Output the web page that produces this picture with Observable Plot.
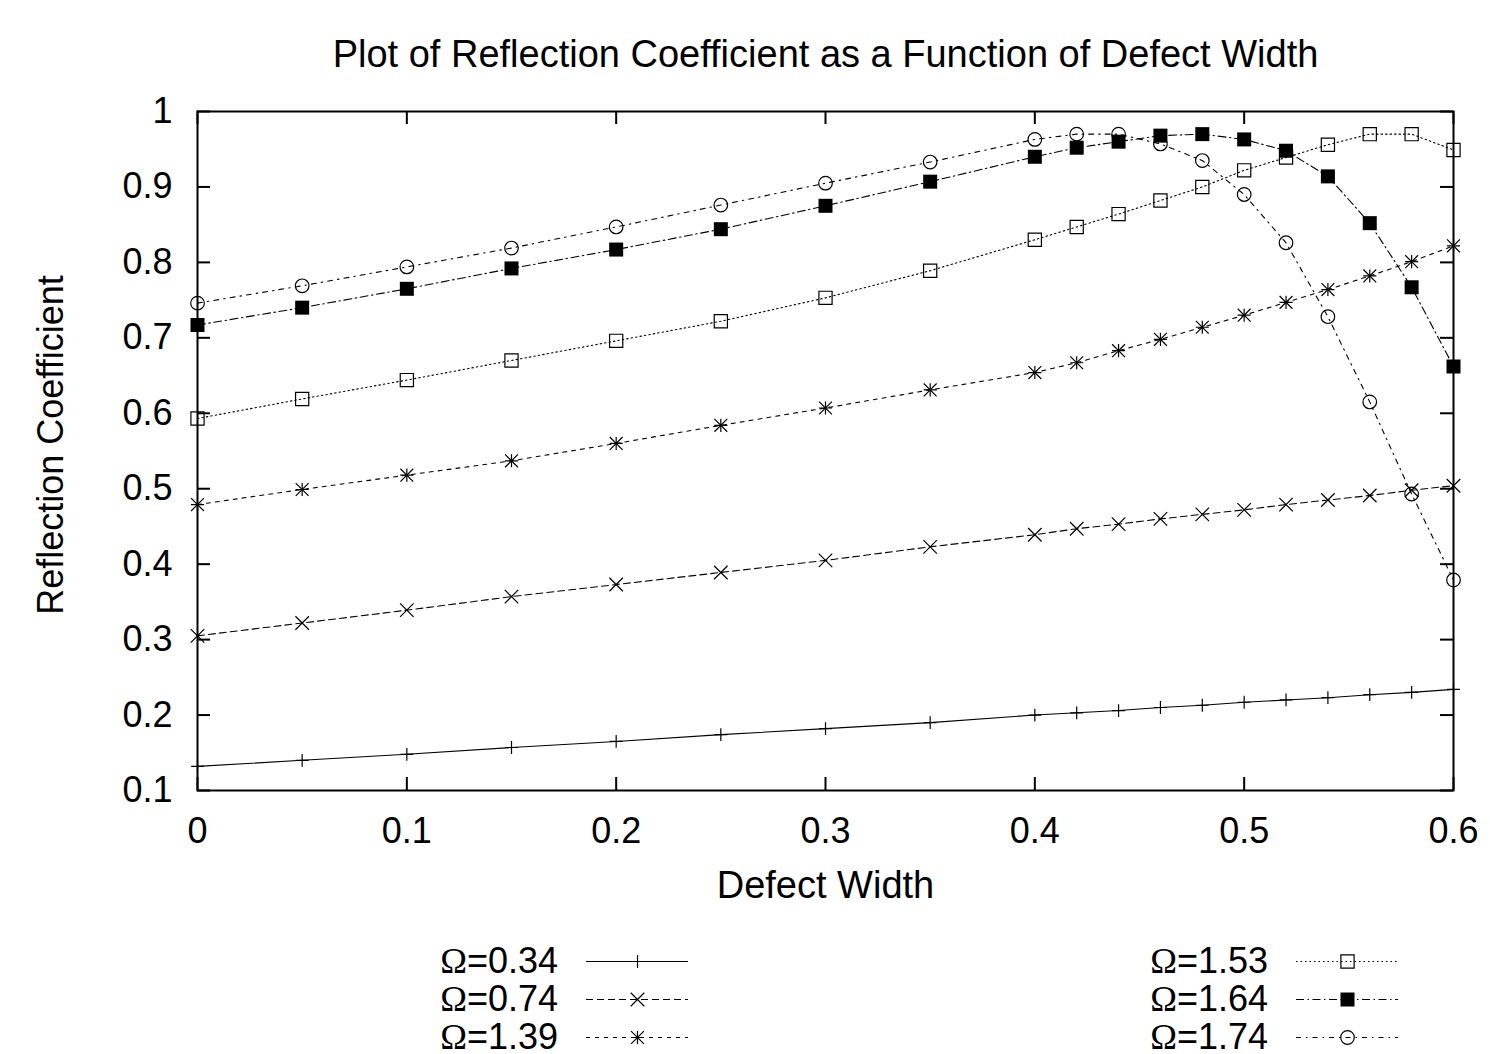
<!DOCTYPE html>
<html>
<head>
<meta charset="utf-8">
<script src="https://cdn.jsdelivr.net/npm/d3@7"></script>
<script src="https://cdn.jsdelivr.net/npm/@observablehq/plot@0.6"></script>
<style>
html, body { margin: 0; padding: 0; background: #fff; }
#wrap { position: relative; width: 1490px; height: 1054px; overflow: hidden; font-family: "Liberation Sans", Arial, sans-serif; color: #000; background: #fff; }
#chart { position: absolute; left: 0; top: 0; }
.lab { position: absolute; font-size: 36px; line-height: 38px; height: 38px; text-align: right; white-space: nowrap; width: 300px; }
.om { font-family: "Liberation Serif", "Times New Roman", serif; }
.samp { position: absolute; }
</style>
</head>
<body>
<div id="wrap"><div id="chart"></div></div>
<script>
// ---- data ----
const widths = [0, 0.05, 0.1, 0.15, 0.2, 0.25, 0.3, 0.35, 0.4, 0.42, 0.44, 0.46, 0.48, 0.5, 0.52, 0.54, 0.56, 0.58, 0.6];
const omega034 = [0.132, 0.140, 0.148, 0.157, 0.165, 0.174, 0.182, 0.190, 0.200, 0.203, 0.206, 0.210, 0.213, 0.217, 0.220, 0.223, 0.227, 0.230, 0.234];
const omega074 = [0.305, 0.322, 0.339, 0.357, 0.373, 0.389, 0.405, 0.423, 0.439, 0.447, 0.453, 0.460, 0.466, 0.472, 0.479, 0.485, 0.491, 0.498, 0.504];
const omega139 = [0.479, 0.499, 0.518, 0.537, 0.560, 0.584, 0.607, 0.631, 0.654, 0.667, 0.683, 0.698, 0.714, 0.730, 0.747, 0.764, 0.782, 0.801, 0.822];
const omega153 = [0.593, 0.619, 0.644, 0.670, 0.696, 0.722, 0.753, 0.789, 0.830, 0.847, 0.864, 0.882, 0.900, 0.922, 0.939, 0.956, 0.970, 0.970, 0.949];
const omega164 = [0.717, 0.740, 0.765, 0.792, 0.817, 0.844, 0.875, 0.907, 0.940, 0.952, 0.960, 0.968, 0.970, 0.963, 0.948, 0.914, 0.852, 0.767, 0.662];
const omega174 = [0.746, 0.769, 0.794, 0.819, 0.847, 0.876, 0.905, 0.933, 0.963, 0.970, 0.970, 0.957, 0.935, 0.890, 0.826, 0.728, 0.615, 0.493, 0.379];
const omegaValues = ["0.34", "0.74", "1.39", "1.53", "1.64", "1.74"];
const xTicks = [0, 0.1, 0.2, 0.3, 0.4, 0.5, 0.6];
const yTicks = [0.1, 0.2, 0.3, 0.4, 0.5, 0.6, 0.7, 0.8, 0.9, 1];
const titleText = "Plot of Reflection Coefficient as a Function of Defect Width";
const xLabelText = "Defect Width";
const yLabelText = "Reflection Coefficient";

// ---- styles ----
const seriesValues = [omega034, omega074, omega139, omega153, omega164, omega174];
const seriesStyles = [
  {dash: null, marks: [{symbol: "plus", r: 4.2}]},
  {dash: "7,4", marks: [{symbol: "times", r: 6.2}]},
  {dash: "4,5", marks: [{symbol: "plus", r: 4.3}, {symbol: "times", r: 5.9}]},
  {dash: "1.5,3", marks: [{symbol: "square2", r: 8.4}]},
  {dash: "8,3.5,1.5,3.5", marks: [{symbol: "square", r: 7.9, fill: "#000", stroke: "none"}]},
  {dash: "5,5,1.5,5", marks: [{symbol: "circle", r: 6.8}]}
];

const W = 1490, H = 920, mL = 197, mR = 37, mT = 111, mB = 130;
const innerW = W - mL - mR, innerH = H - mT - mB, tickLen = 13;
const FS = 36;

function markerMarks(data, st, opts) {
  return st.marks.map(m => Plot.dot(data, {
    ...opts, symbol: m.symbol, r: m.r,
    fill: m.fill ?? "none", stroke: m.stroke ?? "#000", strokeWidth: m.stroke === "none" ? 0 : 1.2
  }));
}

const seriesMarks = seriesValues.flatMap((vals, k) => {
  const st = seriesStyles[k];
  const data = widths.map((w, i) => ({w, v: vals[i]}));
  return [
    Plot.line(data, {x: "w", y: "v", stroke: "#000", strokeWidth: 1.1, strokeDasharray: st.dash ?? undefined}),
    ...markerMarks(data, st, {x: "w", y: "v"})
  ];
});

const chart = Plot.plot({
  width: W, height: H,
  marginLeft: mL, marginRight: mR, marginTop: mT, marginBottom: mB,
  style: {fontFamily: "'Liberation Sans', Arial, sans-serif", fontSize: FS + "px", background: "#fff", color: "#000"},
  x: {domain: [0, 0.6]},
  y: {domain: [0.1, 1]},
  marks: [
    Plot.axisX(xTicks, {anchor: "bottom", tickSize: 0, tickPadding: 27, tickFormat: d => String(d), label: null, fill: "#000"}),
    Plot.axisY(yTicks, {anchor: "left", tickSize: 0, tickPadding: 25, tickFormat: d => String(d), label: null, fill: "#000"}),
    // inward ticks, mirrored on all four sides
    Plot.tickX(xTicks, {x: d => d, insetTop: innerH - tickLen, stroke: "#000", strokeWidth: 2}),
    Plot.tickX(xTicks, {x: d => d, insetBottom: innerH - tickLen, stroke: "#000", strokeWidth: 2}),
    Plot.tickY(yTicks, {y: d => d, insetRight: innerW - tickLen, stroke: "#000", strokeWidth: 2}),
    Plot.tickY(yTicks, {y: d => d, insetLeft: innerW - tickLen, stroke: "#000", strokeWidth: 2}),
    ...seriesMarks,
    Plot.frame({stroke: "#000", strokeWidth: 2}),
    Plot.text([titleText], {frameAnchor: "top", dy: -57, fontSize: 38, fill: "#000", textAnchor: "middle", lineAnchor: "middle"}),
    Plot.text([xLabelText], {frameAnchor: "bottom", dy: 95, fontSize: 38, fill: "#000", textAnchor: "middle", lineAnchor: "middle"}),
    Plot.text([yLabelText], {frameAnchor: "left", dx: -146, dy: -6, rotate: -90, fontSize: FS, fill: "#000", textAnchor: "middle", lineAnchor: "middle"})
  ]
});
document.getElementById("chart").appendChild(chart);

// ---- legend ----
const wrap = document.getElementById("wrap");
const legendCols = [{labelRight: 558, sampleLeft: 586}, {labelRight: 1268, sampleLeft: 1296}];
const legendRowY = [961, 999, 1037];
const sampleW = 102, sampleH = 30;
omegaValues.forEach((om, k) => {
  const col = legendCols[Math.floor(k / 3)];
  const rowY = legendRowY[k % 3];
  const lab = document.createElement("div");
  lab.className = "lab";
  lab.style.left = (col.labelRight - 300) + "px";
  lab.style.top = (rowY - 19) + "px";
  lab.innerHTML = `<span class="om">Ω</span>=${om}`;
  wrap.appendChild(lab);
  const st = seriesStyles[k];
  const samp = Plot.plot({
    width: sampleW, height: sampleH, margin: 0,
    style: {background: "transparent", overflow: "visible"},
    y: {domain: [-1, 1], axis: null},
    x: {axis: null},
    marks: [
      Plot.ruleY([0], {stroke: "#000", strokeWidth: 1.1, strokeDasharray: st.dash ?? undefined}),
      ...markerMarks([0], st, {frameAnchor: "middle"})
    ]
  });
  samp.classList.add("samp");
  samp.style.position = "absolute";
  samp.style.left = col.sampleLeft + "px";
  samp.style.top = (rowY - sampleH / 2) + "px";
  wrap.appendChild(samp);
});
</script>
</body>
</html>
